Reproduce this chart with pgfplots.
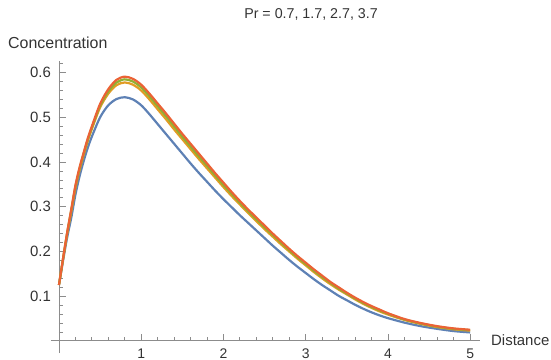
\documentclass[border=0pt]{standalone}
\usepackage{pgfplots}
\pgfplotsset{compat=1.18}
\usepackage{pgfplotstable}
\usepackage{fontspec}
\setmainfont{Liberation Sans}
\definecolor{mblue}{HTML}{5E81B5}
\definecolor{morange}{HTML}{E19C24}
\definecolor{mgreen}{HTML}{8FB032}
\definecolor{mred}{HTML}{EB6235}
\definecolor{axisgray}{HTML}{8C8C8C}
\definecolor{labgray}{HTML}{333333}
\pgfplotstableread{
x b o g r
0.00 0.125 0.125 0.125 0.125
0.05 0.180 0.184 0.184 0.185
0.10 0.232 0.240 0.242 0.243
0.15 0.276 0.290 0.293 0.295
0.20 0.327 0.342 0.345 0.348
0.25 0.368 0.382 0.385 0.388
0.30 0.402 0.416 0.419 0.421
0.35 0.432 0.447 0.450 0.453
0.40 0.457 0.474 0.477 0.480
0.50 0.500 0.522 0.526 0.530
0.60 0.527 0.553 0.558 0.563
0.70 0.541 0.572 0.578 0.584
0.80 0.545 0.578 0.585 0.591
0.90 0.540 0.573 0.580 0.586
1.00 0.527 0.560 0.567 0.573
1.10 0.507 0.540 0.547 0.553
1.20 0.485 0.518 0.525 0.531
1.30 0.463 0.496 0.503 0.509
1.40 0.441 0.473 0.480 0.486
1.50 0.419 0.451 0.457 0.463
1.60 0.397 0.429 0.435 0.441
1.70 0.376 0.407 0.413 0.419
1.80 0.356 0.386 0.392 0.397
1.90 0.336 0.365 0.370 0.375
2.00 0.317 0.344 0.349 0.354
2.10 0.299 0.324 0.329 0.333
2.20 0.281 0.305 0.309 0.313
2.30 0.264 0.286 0.290 0.294
2.40 0.247 0.268 0.272 0.276
2.50 0.230 0.250 0.254 0.258
2.60 0.213 0.233 0.237 0.240
2.70 0.197 0.216 0.220 0.223
2.80 0.181 0.200 0.203 0.206
2.90 0.166 0.184 0.187 0.190
3.00 0.152 0.169 0.172 0.175
3.10 0.138 0.154 0.157 0.160
3.20 0.125 0.140 0.143 0.146
3.30 0.113 0.127 0.130 0.132
3.40 0.101 0.115 0.117 0.120
3.50 0.091 0.104 0.106 0.108
3.60 0.081 0.093 0.095 0.097
3.70 0.072 0.083 0.085 0.087
3.80 0.064 0.074 0.076 0.078
3.90 0.057 0.066 0.068 0.070
4.00 0.051 0.059 0.061 0.062
4.20 0.041 0.047 0.048 0.049
4.40 0.033 0.038 0.039 0.040
4.60 0.027 0.031 0.032 0.033
4.80 0.022 0.026 0.027 0.028
5.00 0.019 0.023 0.024 0.025
}\datatable
\begin{document}
\begin{tikzpicture}
\useasboundingbox (0,0) rectangle (551bp,360bp);
\begin{axis}[
  at={(51bp,7bp)}, anchor=south west,
  scale only axis, width=429bp, height=292bp,
  xmin=-0.097, xmax=5.12, ymin=-0.027, ymax=0.626,
  axis lines=middle,
  axis line style={draw=axisgray, line width=0.9bp, -},
  xtick={1,2,3,4,5},
  ytick={0.1,0.2,0.3,0.4,0.5,0.6},
  minor xtick={0.2,0.4,0.6,0.8,1.2,1.4,1.6,1.8,2.2,2.4,2.6,2.8,3.2,3.4,3.6,3.8,4.2,4.4,4.6,4.8},
  minor ytick={0.02,0.04,0.06,0.08,0.12,0.14,0.16,0.18,0.22,0.24,0.26,0.28,0.32,0.34,0.36,0.38,0.42,0.44,0.46,0.48,0.52,0.54,0.56,0.58,0.62},
  tick align=center,
  major tick length=7bp, minor tick length=4bp,
  every tick/.style={draw=axisgray, line width=0.8bp},
  major x tick style={yshift=3.5bp},
  minor x tick style={yshift=2bp},
  major y tick style={xshift=3.5bp},
  minor y tick style={xshift=2bp},
  /pgf/number format/assume math mode=true,
  /pgf/number format/fixed,
  ticklabel style={font=\fontsize{15}{17}\selectfont, text=labgray},
  yticklabel style={xshift=-1bp},
  xticklabel style={font=\fontsize{14}{16}\selectfont, inner sep=0pt, anchor=north, yshift=-4bp},
  clip=false,
]
\addplot[mblue, line width=2.2bp, smooth] table[x=x, y=b] {\datatable};
\addplot[morange, line width=2.2bp, smooth] table[x=x, y=o] {\datatable};
\addplot[mgreen, line width=2.2bp, smooth] table[x=x, y=g] {\datatable};
\addplot[mred, line width=2.2bp, smooth] table[x=x, y=r] {\datatable};
\end{axis}
\node[font=\fontsize{14.3}{16}\selectfont, text=labgray] at (311bp,346bp) {Pr = 0.7, 1.7, 2.7, 3.7};
\node[font=\fontsize{16}{18}\selectfont, text=labgray, anchor=west, inner sep=0pt] at (8bp,317bp) {Concentration};
\node[font=\fontsize{15}{17}\selectfont, text=labgray, anchor=west, inner sep=0pt] at (491bp,20bp) {Distance};
\end{tikzpicture}
\end{document}
